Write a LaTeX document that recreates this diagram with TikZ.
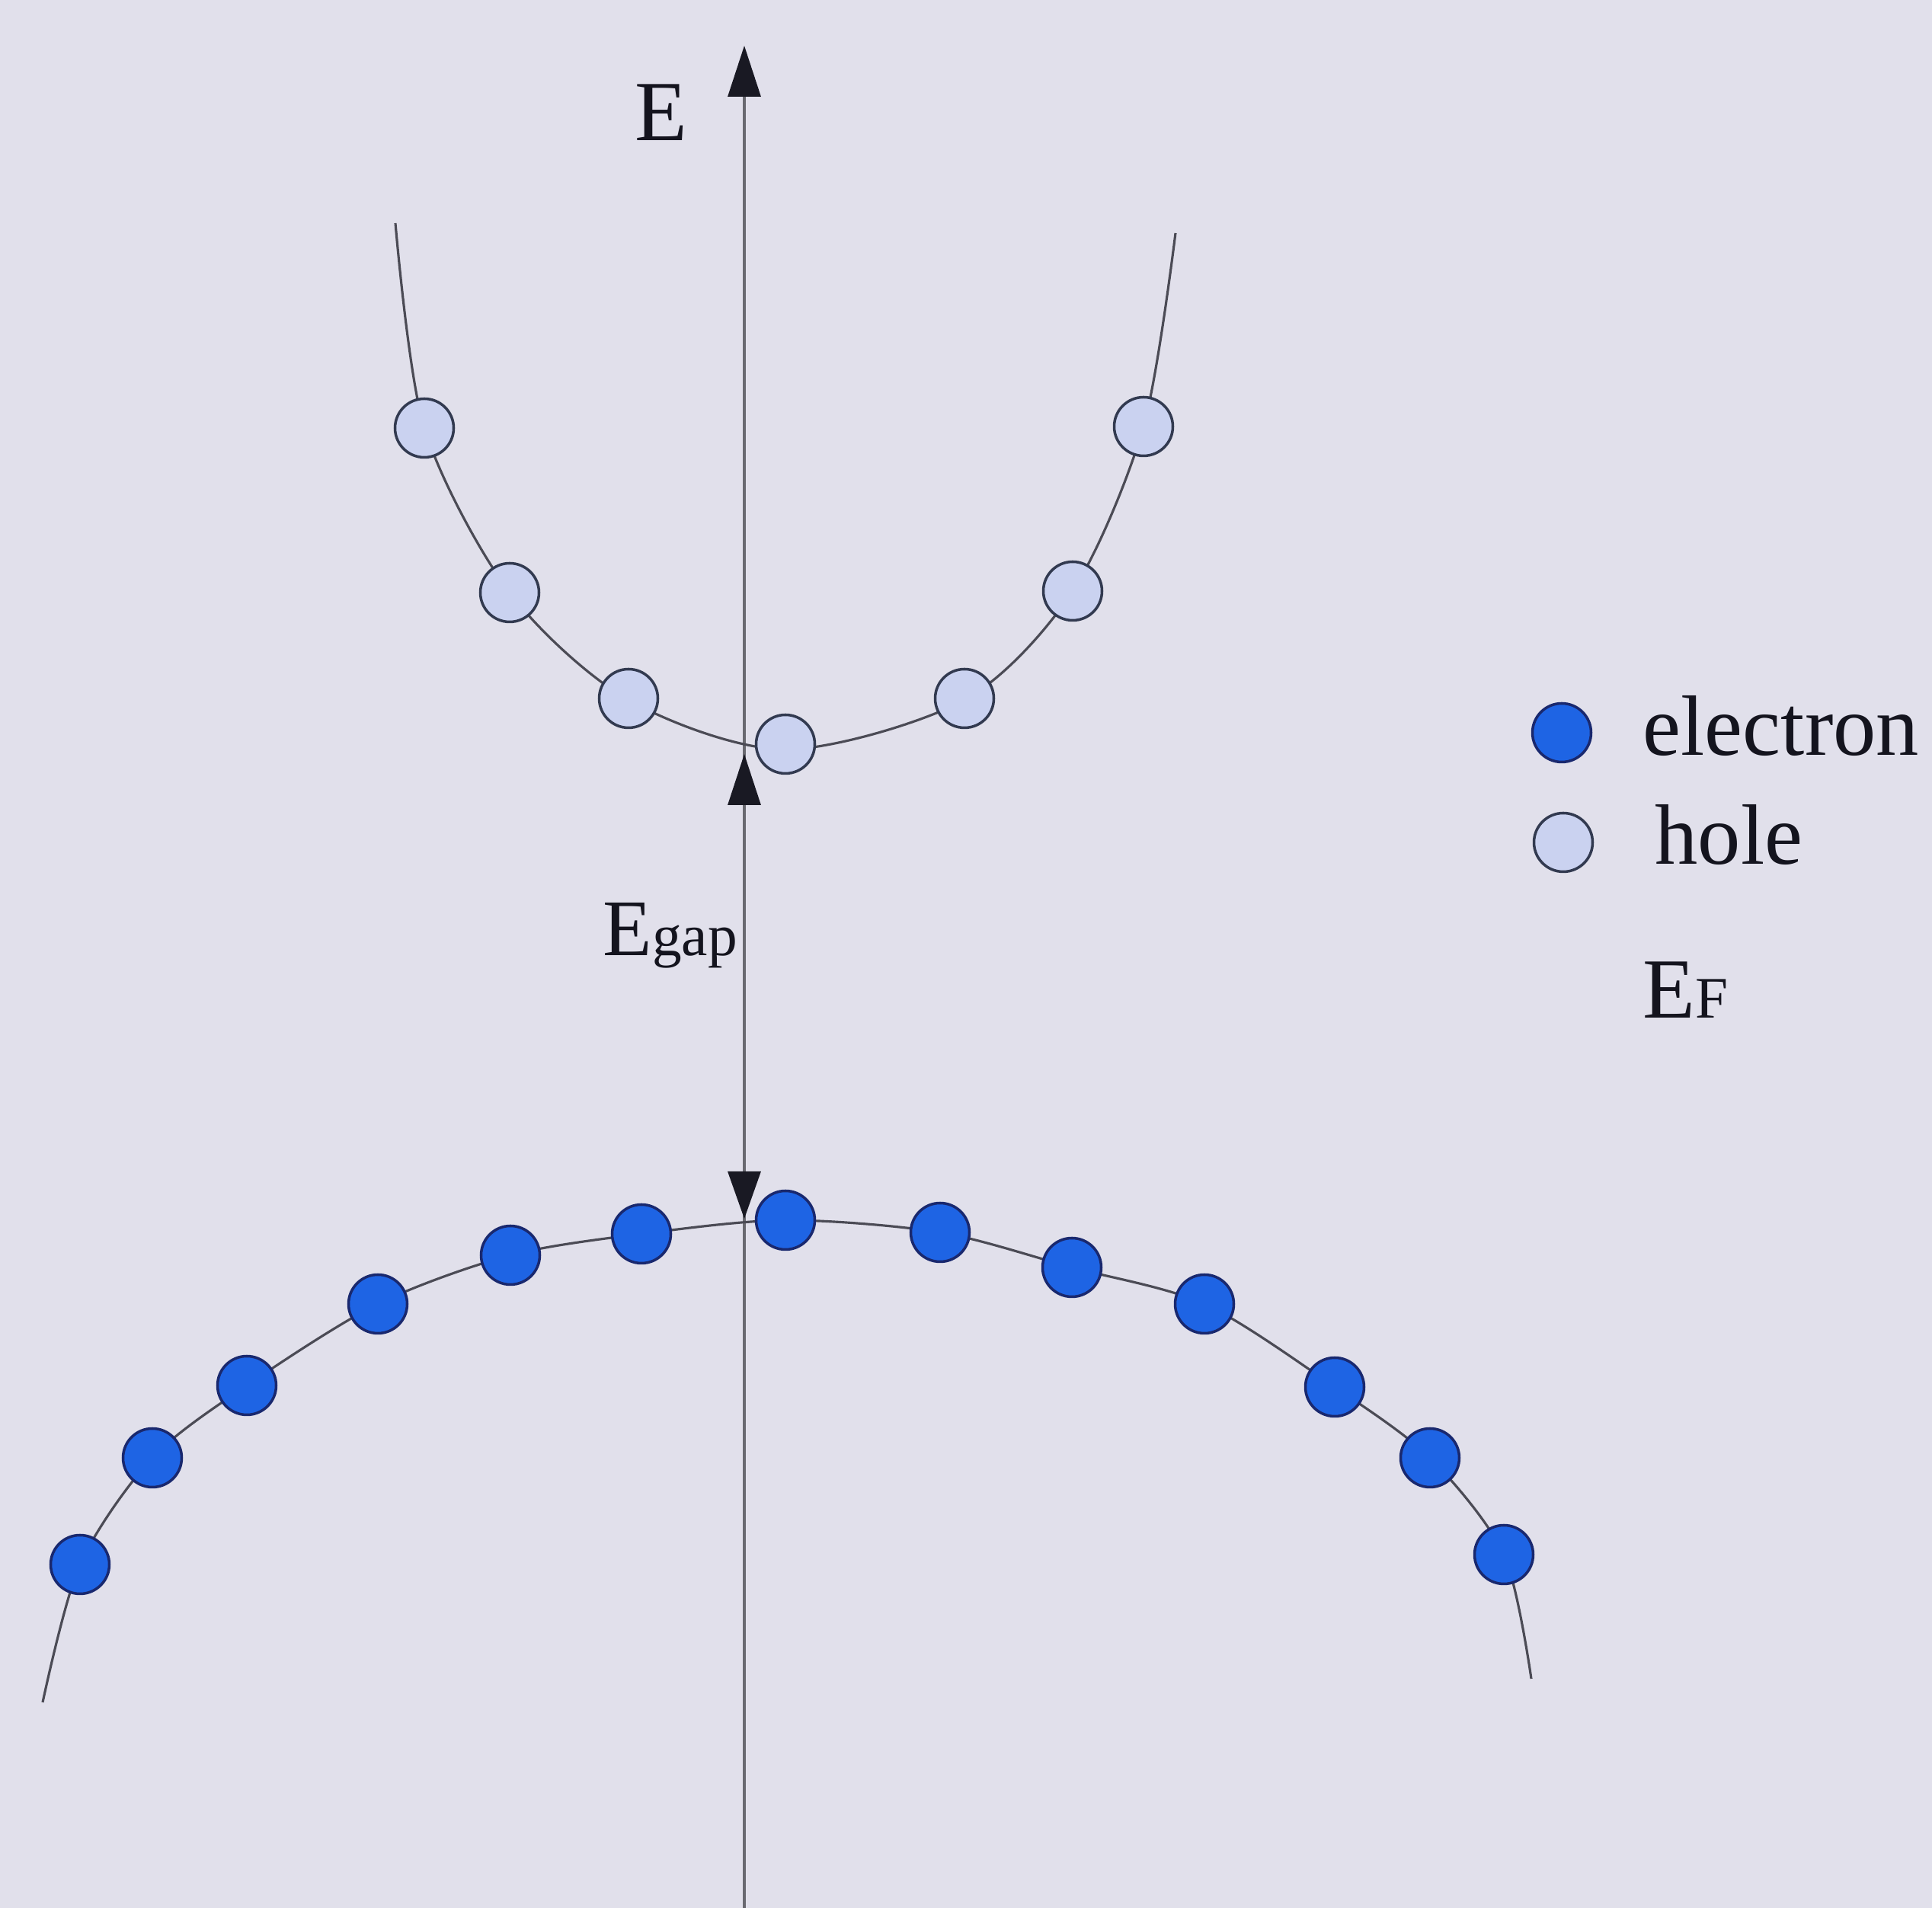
\documentclass[tikz,border=0pt]{standalone}
\usepackage{fontspec}
\setmainfont{Liberation Serif}
\usepackage{xcolor}
\definecolor{bgcol}{RGB}{225,224,235}
\definecolor{elecblue}{RGB}{30,100,228}
\definecolor{elecedge}{RGB}{25,40,110}
\definecolor{holefill}{RGB}{202,210,240}
\definecolor{holeedge}{RGB}{50,58,80}
\definecolor{bandgrey}{RGB}{75,75,85}
\definecolor{axisgrey}{RGB}{105,105,112}
\definecolor{tipblack}{RGB}{25,25,35}
\definecolor{textcol}{RGB}{20,20,30}
\usetikzlibrary{arrows.meta,positioning}

\newcommand{\smalltxt}[1]{{\fontsize{22}{26}\selectfont #1}}

\tikzset{
    electron/.style={circle, draw=elecedge, fill=elecblue, line width=1pt, minimum size=0.77cm, inner sep=0pt},
    hole/.style={circle, draw=holeedge, fill=holefill, line width=1pt, minimum size=0.77cm, inner sep=0pt},
    band/.style={draw=bandgrey, line width=0.9pt},
    axisline/.style={draw=axisgrey, line width=0.9pt},
    etip/.style={-{Triangle[length=0.67cm, width=0.43cm, color=tipblack]}},
    txt/.style={font=\fontsize{32}{38}\selectfont, text=textcol, inner sep=0pt, anchor=base west}
}

\begin{document}
\begin{tikzpicture}
    % background
    \fill[bgcol] (0,0) rectangle (25.36,25.05);
    \useasboundingbox (0,0) rectangle (25.36,25.05);

    % energy axis
    \coordinate (axbot) at (9.77,0);
    \coordinate (axtop) at (9.77,24.45);
    \draw[axisline, etip] (axbot) -- (axtop);
    \node[txt, anchor=base] (elabel) at (8.68,23.20) {E};

    % conduction band
    \draw[band] plot[smooth] coordinates {(5.19,22.12) (5.57,19.43) (6.69,17.27) (8.25,15.86)
        (10.31,15.21) (12.66,15.86) (14.08,17.29) (15.01,19.45) (15.43,21.99)};

    % valence band
    \draw[band] plot[smooth] coordinates {(0.56,2.70) (1.05,4.51) (2.00,5.91) (3.24,6.86)
        (4.96,7.93) (6.70,8.57) (8.42,8.85) (10.31,9.03) (12.34,8.87) (14.07,8.41)
        (15.81,7.93) (17.52,6.84) (18.77,5.91) (19.74,4.64) (20.10,3.01)};

    % band gap
    \coordinate (vbtop) at (9.77,9.05);
    \coordinate (cbbot) at (9.77,15.15);
    \draw[axisline, {Triangle[length=0.62cm, width=0.43cm, color=tipblack]}-{Triangle[length=0.67cm, width=0.43cm, color=tipblack]}] (vbtop) -- (cbbot);
    \node[txt] (gaplabel) at (7.91,12.50) {\fontsize{30}{36}\selectfont E\smalltxt{gap}};

    % holes
    \foreach \x/\y [count=\i] in {5.57/19.43, 6.69/17.27, 8.25/15.88, 10.31/15.28,
        12.66/15.88, 14.08/17.29, 15.01/19.45}
        \node[hole] (h\i) at (\x,\y) {};

    % electrons
    \foreach \x/\y [count=\i] in {1.05/4.51, 2.00/5.91, 3.24/6.86, 4.96/7.93, 6.70/8.57,
        8.42/8.85, 10.31/9.03, 12.34/8.87, 14.07/8.41, 15.81/7.93, 17.52/6.84,
        18.77/5.91, 19.74/4.64}
        \node[electron] (e\i) at (\x,\y) {};

    % legend
    \node[electron] (legelec) at (20.50,15.43) {};
    \node[hole] (leghole) at (20.52,13.99) {};
    \node[txt] (elecname) at (21.56,15.13) {electron};
    \node[txt] (holename) at (21.72,13.70) {hole};
    \node[txt] (fermi) at (21.56,11.68) {E\smalltxt{F}};
\end{tikzpicture}
\end{document}
